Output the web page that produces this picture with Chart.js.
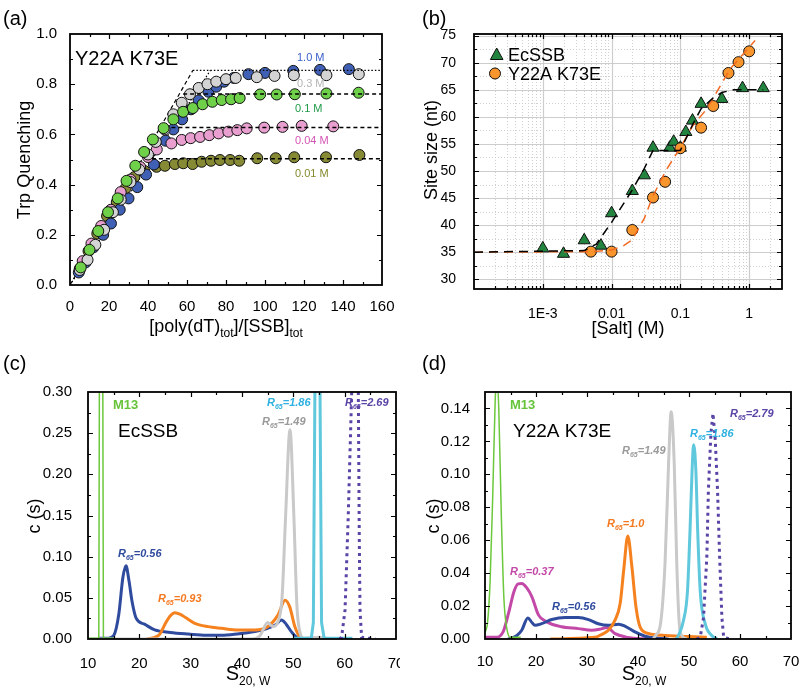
<!DOCTYPE html>
<html><head><meta charset="utf-8">
<script src="https://cdn.jsdelivr.net/npm/chart.js@4.4.0/dist/chart.umd.min.js"></script>
<style>
body{margin:0;background:#fff;width:800px;height:690px;position:relative;overflow:hidden}
canvas{position:absolute}
</style></head><body>
<canvas id="ca" width="400" height="345" style="left:0;top:0"></canvas>
<canvas id="cb" width="400" height="345" style="left:400px;top:0"></canvas>
<canvas id="cc" width="400" height="345" style="left:0;top:345px"></canvas>
<canvas id="cd" width="400" height="345" style="left:400px;top:345px"></canvas>
<script>
// ---------- Panel (a): Trp quenching titrations ----------
const a_1M = [[4.5,0.05],[8,0.09],[12,0.15],[17,0.2],[21,0.245],[25.5,0.30],[30,0.345],[34.5,0.39],[39,0.44],[43,0.48],[49,0.575],[53,0.62],[57.5,0.66],[62,0.70],[66,0.735],[71,0.77],[75,0.79],[79,0.81],[84,0.825],[91.5,0.84],[100,0.845],[114.5,0.853],[128.2,0.857],[143,0.86]];
const a_03M = [[5,0.06],[9,0.1],[13,0.16],[17.5,0.22],[22,0.29],[26,0.34],[31,0.41],[35.5,0.46],[40,0.52],[44,0.57],[48.5,0.62],[53,0.68],[57.3,0.726],[61.5,0.76],[66,0.785],[70.5,0.80],[75,0.81],[80,0.82],[85,0.825],[95.8,0.828],[104.9,0.833],[114.8,0.836],[131.5,0.836],[148.1,0.84]];
const a_01M = [[5.5,0.07],[10,0.14],[14.5,0.215],[19.5,0.29],[24.5,0.345],[29,0.415],[33.5,0.475],[38,0.53],[42.5,0.58],[48,0.625],[53,0.66],[58,0.69],[63,0.705],[68,0.72],[73,0.73],[77.8,0.737],[82.6,0.74],[87,0.745],[97.5,0.759],[106,0.759],[115.3,0.76],[131.5,0.763],[148,0.766]];
const a_004M = [[6.5,0.095],[11,0.165],[16,0.235],[21,0.30],[26,0.37],[31,0.42],[36,0.47],[40,0.51],[44.5,0.54],[52,0.564],[57.3,0.578],[61.9,0.585],[66.7,0.59],[71.4,0.597],[76.2,0.604],[81.2,0.611],[85.8,0.617],[90.6,0.624],[99.6,0.627],[109,0.63],[118.8,0.634],[135,0.632]];
const a_001M = [[5,0.065],[9.5,0.135],[14,0.205],[19,0.275],[24,0.33],[28.5,0.385],[33,0.43],[38,0.455],[44.4,0.471],[48.7,0.475],[53.8,0.482],[58.1,0.485],[62.9,0.482],[67.5,0.491],[72.3,0.495],[76.9,0.498],[82.1,0.498],[86.8,0.495],[96,0.505],[105.5,0.505],[115,0.509],[131.3,0.509],[148.4,0.518]];
const a_fitSlopeA = [[0,0],[63,0.855]];
const a_fitSlopeB = [[0,0],[72,0.855]];
const a_fitTop = [[63,0.855],[160,0.855]];
const a_fit01 = [[58,0.761],[160,0.761]];
const a_fit004 = [[52,0.627],[160,0.627]];
const a_fit001 = [[42,0.503],[160,0.503]];
const aXTicks = [0,20,40,60,80,100,120,140,160];
const aXMinor = [10,30,50,70,90,110,130,150];
const aYTicks = [0,0.2,0.4,0.6,0.8,1.0];
const aYMinor = [0.1,0.3,0.5,0.7,0.9];

// ---------- Panel (b): site size vs salt ----------
const bSaltEc = [0.001,0.002,0.004,0.007,0.01,0.02,0.03,0.04,0.07,0.08,0.1,0.12,0.15,0.2,0.4,0.8,1.6];
const bSizeEc = [35.7,34.7,37.2,36.2,42.2,46.3,49.2,54.3,54.3,55.4,54.3,57.2,59.3,62.4,63.3,65.3,65.3];
const bSaltMut = [0.005,0.01,0.02,0.04,0.06,0.1,0.2,0.3,0.5,0.7,1.0];
const bSizeMut = [35.1,35.1,39.1,45.1,48.0,54.2,58.0,62.0,68.1,70.1,72.1];
const bFitEcSalt = [0.0001,0.004,0.006,0.01,0.02,0.03,0.04,0.1,0.15,0.2,0.3,0.4,0.6,1.6];
const bFitEcSize = [35,35.3,36.5,40.5,46.5,50.5,53.8,53.8,58.5,61.5,63.5,64.5,65,65];
const bFitMutSalt = [0.0001,0.005,0.01,0.015,0.02,0.03,0.04,0.063,0.1,0.15,0.24,0.335,0.525,1.22];
const bFitMutSize = [35,35.1,35.4,36.2,37.3,41.3,45.4,50.3,54.3,58.3,61.4,64.5,68.8,74.1];
const bXTicks = [0.001,0.01,0.1,1];
const bXLabels = ['1E-3','0.01','0.1','1'];
const bYTicks = [30,35,40,45,50,55,60,65,70,75];

// ---------- Panel (c): EcSSB sedimentation ----------
const cM13 = [[10,0.001],[12.1,0.001],[12.25,0.4],[12.55,0.6],[12.85,0.4],[13.0,0.001],[15,0.001]];
const cR056 = [[12,0.001],[14,0.001],[15,0.004],[16,0.03],[16.8,0.075],[17.4,0.089],[18,0.07],[18.6,0.045],[19.4,0.025],[21,0.018],[23,0.011],[26,0.008],[29.5,0.006],[33,0.0045],[36,0.0045],[39,0.006],[42.5,0.009],[45,0.013],[46.5,0.017],[47.7,0.023],[48.6,0.018],[49.6,0.009],[50.9,0.001],[52,0.0]];
const cR093 = [[21.5,0],[23,0.002],[24,0.006],[25,0.018],[26,0.028],[26.9,0.032],[28,0.03],[29,0.026],[30.8,0.019],[33.4,0.015],[36,0.013],[39.2,0.011],[42.5,0.011],[45,0.015],[47,0.029],[48.4,0.047],[49.3,0.039],[50.3,0.015],[51.6,0.001],[55,0.0],[60,0.0]];
const cR149 = [[10,0.0],[42,0.0],[43.5,0.004],[45,0.02],[46,0.015],[47,0.021],[47.8,0.05],[48.5,0.15],[49.35,0.254],[50.1,0.15],[50.7,0.04],[51.3,0.008],[52,0.001],[55,0.002],[57,0.0]];
const cR186 = [[50,0.001],[53.5,0.001],[53.9,0.02],[54.2,0.3],[54.7,0.6],[55.2,0.3],[55.5,0.02],[56,0.001],[61.5,0.001]];
const cR269 = [[59,0],[59.4,0.002],[60.07,0.035],[60.7,0.15],[61.37,0.3],[62,0.4],[62.66,0.3],[62.85,0.12],[62.99,0.035],[63.3,0.002],[66,0]];
const cXTicks = [10,20,30,40,50,60,70];
const cXMinor = [15,25,35,45,55,65];
const cYTicks = [0,0.05,0.10,0.15,0.20,0.25,0.30];
const cYMinor = [0.025,0.075,0.125,0.175,0.225,0.275];

// ---------- Panel (d): Y22A K73E sedimentation ----------
const dM13 = [[10,0.004],[10.5,0.01],[11,0.035],[11.5,0.085],[12,0.145],[12.3,0.16],[12.7,0.14],[13.2,0.075],[13.7,0.025],[14.3,0.006],[15,0.001],[17,0.001]];
const dR037 = [[10,0.001],[12,0.001],[13.5,0.004],[14.6,0.0155],[15.7,0.029],[16.5,0.0335],[17.2,0.0337],[18.2,0.031],[19.2,0.0256],[20.5,0.0145],[22.1,0.0104],[25,0.0074],[28.3,0.0063],[30.9,0.0053],[32.6,0.006],[33.9,0.007],[35.5,0.0033],[37.5,0.0013],[40,0.0003],[42,0]];
const dR056 = [[14.5,0.0],[15.2,0.0005],[16.2,0.002],[17.2,0.0053],[18.4,0.0128],[19.2,0.01],[19.8,0.0083],[21.1,0.0093],[23.1,0.0118],[25.7,0.013],[28.3,0.013],[30.3,0.0118],[32.2,0.0093],[34.2,0.0083],[36.2,0.009],[37.5,0.0077],[39.4,0.0043],[41.4,0.0017],[44,0.0005],[46,0]];
const dR10 = [[22.8,0.0],[31.6,0.001],[33,0.003],[34.2,0.0053],[35.5,0.0115],[36.5,0.0215],[37.2,0.0419],[38,0.0625],[38.8,0.044],[39.6,0.0195],[40.4,0.0074],[42,0.0034],[44.7,0.0023],[50,0.0015],[53.5,0.001]];
const dR149 = [[43,0.0],[43.4,0.002],[44.4,0.009],[45.3,0.046],[46.0,0.107],[46.5,0.138],[47.1,0.107],[47.6,0.046],[48.1,0.009],[48.6,0.002],[49.5,0.0]];
const dR186 = [[47.5,0.0],[47.9,0.002],[48.9,0.011],[49.7,0.029],[50.2,0.066],[50.6,0.102],[50.9,0.118],[51.35,0.102],[51.7,0.066],[52.2,0.029],[53.2,0.009],[54.5,0.002],[55.5,0.0]];
const dR279 = [[51.5,0],[52.2,0.001],[52.85,0.013],[53.5,0.05],[53.8,0.09],[54.3,0.125],[54.7,0.137],[55.15,0.121],[55.6,0.09],[56.0,0.05],[56.45,0.013],[56.8,0.001],[58,0]];
const dXTicks = [10,20,30,40,50,60,70];
const dXMinor = [15,25,35,45,55,65];
const dYTicks = [0,0.02,0.04,0.06,0.08,0.10,0.12,0.14];
const dYMinor = [0.01,0.03,0.05,0.07,0.09,0.11,0.13];

// ---------- helpers ----------
const F = "'Liberation Sans', Arial, Helvetica, sans-serif";
const pts = a => a.map(p => ({x:p[0], y:p[1]}));
const zip = (xs, ys) => xs.map((v,i) => ({x:v, y:ys[i]}));

function scales(o){
  return {
    x:{type:o.xtype||'linear',min:o.xmin,max:o.xmax,grid:{display:false},border:{display:false},
      ticks:{color:'#000',font:{family:F,size:o.fs},padding:o.xpad,maxRotation:0,minRotation:0,autoSkip:false,callback:o.xfmt},
      afterBuildTicks:s=>{s.ticks=o.xt.map(v=>({value:v}));},
      afterFit:s=>{s.height=o.xh;s.paddingLeft=0;s.paddingRight=0;}},
    y:{type:'linear',min:o.ymin,max:o.ymax,grid:{display:false},border:{display:false},
      ticks:{color:'#000',font:{family:F,size:o.fs},padding:o.ypad,autoSkip:false,callback:o.yfmt},
      afterBuildTicks:s=>{s.ticks=o.yt.map(v=>({value:v}));},
      afterFit:s=>{s.width=o.yw;s.paddingTop=0;s.paddingBottom=0;}}
  };
}

function drawBox(chart, xMaj, xMin, yMaj, yMin){
  const {ctx, chartArea:a, scales:{x,y}} = chart;
  ctx.save(); ctx.strokeStyle='#000'; ctx.lineWidth=1.2;
  ctx.beginPath();
  const tx=(v,len)=>{const p=Math.round(x.getPixelForValue(v))+0.5; if(p<a.left+1||p>a.right-1) return; ctx.moveTo(p,a.bottom); ctx.lineTo(p,a.bottom-len); ctx.moveTo(p,a.top); ctx.lineTo(p,a.top+len);};
  const ty=(v,len)=>{const p=Math.round(y.getPixelForValue(v))+0.5; if(p<a.top+1||p>a.bottom-1) return; ctx.moveTo(a.left,p); ctx.lineTo(a.left+len,p); ctx.moveTo(a.right,p); ctx.lineTo(a.right-len,p);};
  xMaj.forEach(v=>tx(v,5)); xMin.forEach(v=>tx(v,3));
  yMaj.forEach(v=>ty(v,5)); yMin.forEach(v=>ty(v,3));
  ctx.stroke();
  ctx.lineWidth=1.8; ctx.strokeRect(a.left,a.top,a.right-a.left,a.bottom-a.top);
  ctx.restore();
}

function rich(ctx, x, y, parts, align, color){
  let w=0; parts.forEach(p=>{ctx.font=p.f; p.w=ctx.measureText(p.t).width; w+=p.w;});
  let cx = align==='center' ? x-w/2 : x;
  ctx.fillStyle=color||'#000'; ctx.textBaseline='alphabetic'; ctx.textAlign='left';
  parts.forEach(p=>{ctx.font=p.f; ctx.fillText(p.t,cx,y+(p.dy||0)); cx+=p.w;});
}
function txt(ctx, s, x, y, font, color, align){
  ctx.font=font; ctx.fillStyle=color||'#000'; ctx.textAlign=align||'left'; ctx.textBaseline='alphabetic'; ctx.fillText(s,x,y);
}
function vtxt(ctx, s, cx, cy, font){
  ctx.save(); ctx.translate(cx,cy); ctx.rotate(-Math.PI/2); ctx.font=font; ctx.fillStyle='#000';
  ctx.textAlign='center'; ctx.textBaseline='middle'; ctx.fillText(s,0,0); ctx.restore();
}
function rlabel(ctx, x, y, val, color){
  rich(ctx, x, y, [
    {t:'R', f:'italic bold 11px '+F},
    {t:'65', f:'italic bold 7px '+F, dy:3},
    {t:'='+val, f:'italic bold 11px '+F}], 'left', color);
}

const baseOpts = {responsive:false, animation:false, devicePixelRatio:1, events:[],
  plugins:{legend:{display:false}, tooltip:{enabled:false}}};

// ---------- (a) ----------
const mk = (data,color,order)=>({data:pts(data),backgroundColor:color,borderColor:'#111',borderWidth:1,pointRadius:5.5,showLine:false,order});
const ln = (data,dash,order,w)=>({data:pts(data),showLine:true,borderColor:'#000',borderWidth:w||1.2,borderDash:dash,pointRadius:0,fill:false,order});

new Chart(document.getElementById('ca'), {
  type:'scatter',
  data:{datasets:[
    ln(a_fitSlopeA,[4,3],10), ln(a_fitSlopeB,[1.5,2],10), ln(a_fitTop,[1.5,2],0),
    ln(a_fit01,[4,3],0,1.5), ln(a_fit004,[4,3],0,1.5), ln(a_fit001,[4,3],0,1.5),
    mk(a_01M,'#6fd04a',1), mk(a_03M,'#d4d4d4',2), mk(a_004M,'#e89fcf',3), mk(a_1M,'#3f60b4',4), mk(a_001M,'#878a34',5)
  ]},
  options:{...baseOpts, layout:{padding:{left:0,right:18,top:34,bottom:0}},
    scales:scales({xmin:0,xmax:160,ymin:0,ymax:1.0,xt:aXTicks,yt:aYTicks,fs:15,xpad:5,ypad:5,xh:60,yw:70,
      xfmt:v=>String(v), yfmt:v=>Number(v).toFixed(1)})},
  plugins:[{id:'boxa',
    afterDatasetsDraw(c){drawBox(c,aXTicks,aXMinor,aYTicks,aYMinor);},
    afterDraw(c){const ctx=c.ctx;
      txt(ctx,'(a)',3,25,'20px '+F);
      txt(ctx,'Y22A K73E',75,65,'20px '+F);
      txt(ctx,'1.0 M',297,61,'11px '+F,'#3a5fc8');
      txt(ctx,'0.3 M',297,87,'11px '+F,'#b4b4b4');
      txt(ctx,'0.1 M',295,112,'11px '+F,'#1f9a48');
      txt(ctx,'0.04 M',295,144,'11px '+F,'#d455b4');
      txt(ctx,'0.01 M',295,177,'11px '+F,'#858a2c');
      vtxt(ctx,'Trp Quenching',25,160,'18px '+F);
      rich(ctx,226,332,[{t:'[poly(dT)',f:'18px '+F},{t:'tot',f:'12px '+F,dy:5},{t:']/[SSB]',f:'18px '+F},{t:'tot',f:'12px '+F,dy:5}],'center');
    }}]
});

// ---------- (b) ----------
new Chart(document.getElementById('cb'), {
  type:'scatter',
  data:{datasets:[
    {data:zip(bFitEcSalt,bFitEcSize),showLine:true,borderColor:'#000',borderWidth:1.5,borderDash:[9,6],pointRadius:0,order:0},
    {data:zip(bFitMutSalt,bFitMutSize),showLine:true,borderColor:'#f26a21',borderWidth:1.5,borderDash:[9,6],pointRadius:0,order:0},
    {data:zip(bSaltMut,bSizeMut),pointStyle:'circle',pointRadius:5.5,backgroundColor:'#f8952c',borderColor:'#111',borderWidth:1,order:1},
    {data:zip(bSaltEc,bSizeEc),pointStyle:'triangle',pointRadius:7,backgroundColor:'#22843e',borderColor:'#111',borderWidth:1,order:2}
  ]},
  options:{...baseOpts, layout:{padding:{left:0,right:18,top:34,bottom:0}},
    scales:scales({xtype:'logarithmic',xmin:0.0001,xmax:3,ymin:28.2,ymax:75.3,xt:bXTicks,yt:bYTicks,fs:14,xpad:9,ypad:10,xh:56,yw:74,
      xfmt:(v,i)=>bXLabels[i], yfmt:v=>String(v)})},
  plugins:[{id:'boxb',
    beforeDatasetsDraw(c){
      const {ctx,chartArea:a,scales:{x,y}}=c; ctx.save();
      ctx.strokeStyle='#d0d0d0'; ctx.lineWidth=1; ctx.setLineDash([1,2]); ctx.beginPath();
      [0.0001,0.001,0.01,0.1,1].forEach(d=>{for(let m=2;m<=9;m++){const v=d*m; if(v>=3) continue; const p=Math.round(x.getPixelForValue(v))+0.5; ctx.moveTo(p,a.top); ctx.lineTo(p,a.bottom);}});
      bYTicks.forEach(v=>{const vv=v-2.5; if(vv<28.2) return; const p=Math.round(y.getPixelForValue(vv))+0.5; ctx.moveTo(a.left,p); ctx.lineTo(a.right,p);});
      ctx.stroke();
      ctx.setLineDash([]); ctx.strokeStyle='#cdcdcd'; ctx.lineWidth=1.2; ctx.beginPath();
      bXTicks.forEach(v=>{const p=Math.round(x.getPixelForValue(v))+0.5; ctx.moveTo(p,a.top); ctx.lineTo(p,a.bottom);});
      bYTicks.forEach(v=>{const p=Math.round(y.getPixelForValue(v))+0.5; ctx.moveTo(a.left,p); ctx.lineTo(a.right,p);});
      ctx.stroke(); ctx.restore();
    },
    afterDatasetsDraw(c){
      const minor=[]; [0.0001,0.001,0.01,0.1,1].forEach(d=>{for(let m=2;m<=9;m++){if(d*m<3) minor.push(d*m);}});
      drawBox(c,bXTicks,minor,bYTicks,bYTicks.map(v=>v-2.5).filter(v=>v>28.2));
    },
    afterDraw(c){const ctx=c.ctx;
      txt(ctx,'(b)',22,25,'20px '+F);
      ctx.save(); ctx.fillStyle='#22843e'; ctx.strokeStyle='#111'; ctx.lineWidth=1;
      ctx.beginPath(); ctx.moveTo(96.7,48); ctx.lineTo(103,59.5); ctx.lineTo(90.4,59.5); ctx.closePath(); ctx.fill(); ctx.stroke();
      ctx.fillStyle='#f8952c'; ctx.beginPath(); ctx.arc(95,73.5,5.5,0,Math.PI*2); ctx.fill(); ctx.stroke(); ctx.restore();
      txt(ctx,'EcSSB',108,61,'18px '+F);
      txt(ctx,'Y22A K73E',108,80,'18px '+F);
      vtxt(ctx,'Site size (nt)',32,150,'18px '+F);
      txt(ctx,'[Salt] (M)',228,334,'18px '+F,'#000','center');
    }}]
});

// ---------- (c) and (d) ----------
const cv = (data,color,w,order,extra)=>Object.assign({data:pts(data),showLine:true,borderColor:color,borderWidth:w,pointRadius:0,fill:false,cubicInterpolationMode:'monotone',order},extra||{});
const straight = {cubicInterpolationMode:'default',tension:0};
const dotted = {cubicInterpolationMode:'default',tension:0,borderDash:[3,4],borderCapStyle:'butt'};

new Chart(document.getElementById('cc'), {
  type:'scatter',
  data:{datasets:[
    cv(cM13,'#6cc83c',1.5,0,straight),
    cv(cR269,'#5a44a6',3,1,dotted),
    cv(cR186,'#5fc8dc',3,2,straight),
    cv(cR149,'#c9c9c9',3,3),
    cv(cR093,'#f5821f',3,4),
    cv(cR056,'#2f4b9e',3,5)
  ]},
  options:{...baseOpts, layout:{padding:{left:0,right:4,top:47,bottom:0}},
    scales:scales({xmin:10,xmax:70,ymin:0,ymax:0.30,xt:cXTicks,yt:cYTicks,fs:15,xpad:8,ypad:8,xh:51,yw:88,
      xfmt:v=>String(v), yfmt:v=>Number(v).toFixed(2)})},
  plugins:[{id:'boxc',
    afterDatasetsDraw(c){drawBox(c,cXTicks,cXMinor,cYTicks,cYMinor);},
    afterDraw(c){const ctx=c.ctx;
      txt(ctx,'(c)',3,25,'20px '+F);
      txt(ctx,'M13',113,64,'bold 13px '+F,'#66c33a');
      txt(ctx,'EcSSB',118,92,'19px '+F);
      rlabel(ctx,118,212,'0.56','#2f4b9e');
      rlabel(ctx,158,257,'0.93','#f47920');
      rlabel(ctx,262,80,'1.49','#9a9a9a');
      rlabel(ctx,267,61,'1.86','#2eb0e0');
      rlabel(ctx,345,61,'2.69','#5a44a6');
      vtxt(ctx,'c (s)',35,171,'18px '+F);
      rich(ctx,248,335,[{t:'S',f:'20px '+F},{t:'20, W',f:'12px '+F,dy:5}],'center');
    }}]
});

new Chart(document.getElementById('cd'), {
  type:'scatter',
  data:{datasets:[
    cv(dM13,'#6cc83c',1.5,0),
    cv(dR279,'#5a44a6',3,1,dotted),
    cv(dR186,'#5fc8dc',3,2),
    cv(dR149,'#c9c9c9',3,3),
    cv(dR10,'#f5821f',3,4),
    cv(dR056,'#2f4b9e',3,5),
    cv(dR037,'#c349a8',3,6)
  ]},
  options:{...baseOpts, layout:{padding:{left:0,right:9,top:47,bottom:0}},
    scales:scales({xmin:10,xmax:70,ymin:0,ymax:0.15,xt:dXTicks,yt:dYTicks,fs:15,xpad:6,ypad:7,xh:51,yw:85,
      xfmt:v=>String(v), yfmt:v=>Number(v).toFixed(2)})},
  plugins:[{id:'boxd',
    afterDatasetsDraw(c){drawBox(c,dXTicks,dXMinor,dYTicks,dYMinor);},
    afterDraw(c){const ctx=c.ctx;
      txt(ctx,'(d)',22,25,'20px '+F);
      txt(ctx,'M13',110,64,'bold 13px '+F,'#66c33a');
      txt(ctx,'Y22A K73E',113,92,'19px '+F);
      rlabel(ctx,330,72,'2.79','#5a44a6');
      rlabel(ctx,290,92,'1.86','#2eb0e0');
      rlabel(ctx,222,109,'1.49','#9a9a9a');
      rlabel(ctx,207,182,'1.0','#f47920');
      rlabel(ctx,110,230,'0.37','#c349a8');
      rlabel(ctx,152,265,'0.56','#2f4b9e');
      vtxt(ctx,'c (s)',34,171,'18px '+F);
      rich(ctx,244,335,[{t:'S',f:'20px '+F},{t:'20, W',f:'12px '+F,dy:5}],'center');
    }}]
});
</script>
</body></html>
